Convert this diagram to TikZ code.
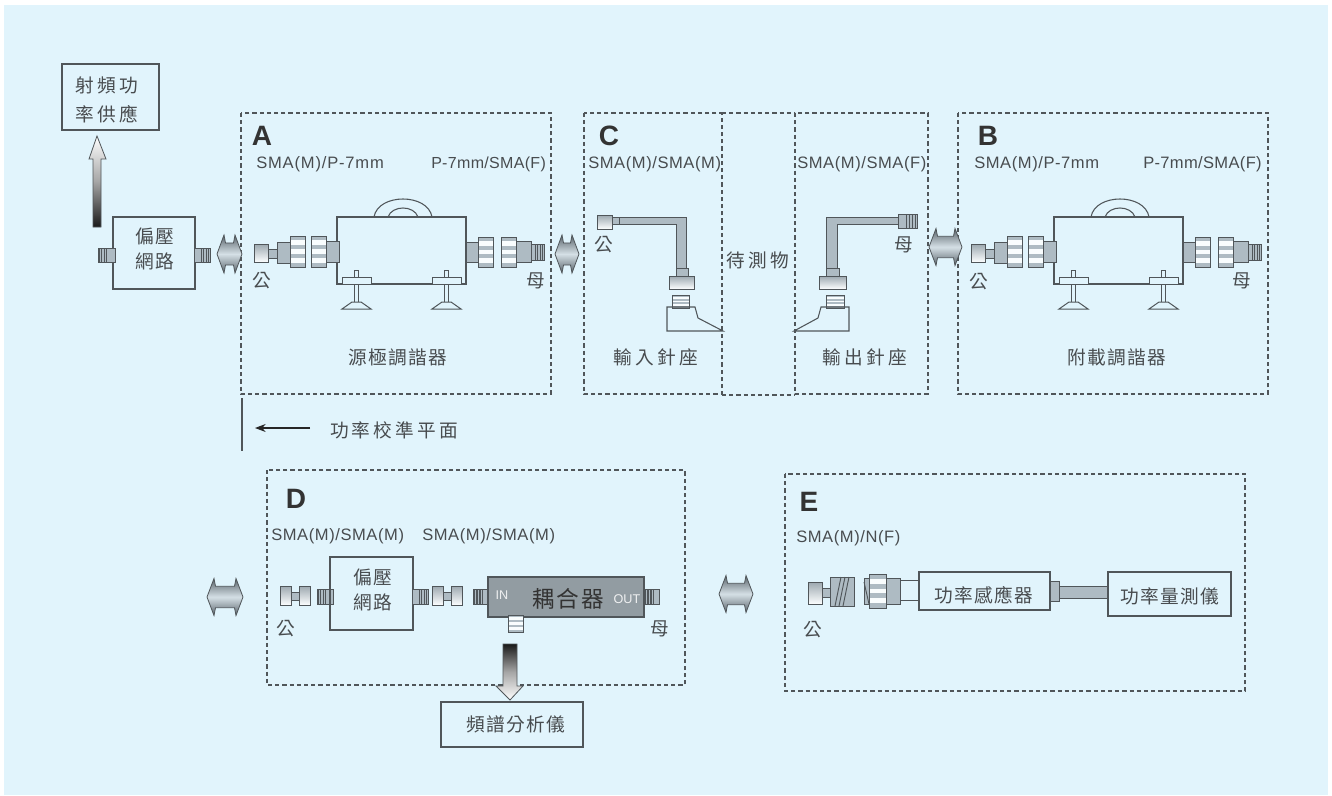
\documentclass[tikz,border=0pt]{standalone}
\usepackage{fontspec}
\setmainfont{Liberation Sans}
\newfontfamily\cjk[LetterSpace=8]{Noto Sans CJK TC}
\newfontfamily\cjkw[LetterSpace=17]{Noto Sans CJK TC}
\newfontfamily\lat[LetterSpace=5]{Liberation Sans}
\newfontfamily\latm[LetterSpace=3.5]{Liberation Sans}
\newfontfamily\lats[LetterSpace=2]{Liberation Sans}
\usetikzlibrary{arrows.meta}
\definecolor{bg}{HTML}{E1F4FC}
\definecolor{ln}{HTML}{50565A}
\definecolor{txt}{HTML}{484C4F}
\definecolor{mt}{HTML}{AEBBC3}
\definecolor{cp}{HTML}{929CA2}
\definecolor{ae}{HTML}{59636A}
\definecolor{am}{HTML}{D5E0E6}
\tikzset{
  x=0.75pt,y=-0.75pt,
  dbox/.style={draw=ln,line width=0.8pt,dash pattern=on 3.2pt off 2.2pt},
  sbox/.style={draw=ln,line width=0.8pt,inner sep=0,outer sep=0},
  part/.style={draw=ln,line width=0.75pt,fill=mt},
  cjt/.style={inner sep=0,text=txt,font=\fontsize{14}{14}\selectfont\cjk},
  cjw/.style={inner sep=0,text=txt,font=\fontsize{14}{14}\selectfont\cjkw},
  lat/.style={inner sep=0,text=txt,font=\fontsize{12.4}{13}\selectfont\lat,anchor=west},
  latm/.style={inner sep=0,text=txt,font=\fontsize{12.4}{13}\selectfont\latm,anchor=west},
  lats/.style={inner sep=0,text=txt,font=\fontsize{12.4}{13}\selectfont\lats,anchor=west},
  latss/.style={inner sep=0,text=txt,font=\fontsize{12}{13}\selectfont\lats,anchor=west},
  big/.style={inner sep=0,text=black!80,font=\fontsize{21}{21}\selectfont\bfseries},
  plug/.style={draw=ln,line width=0.75pt,top color=mt!90!black,bottom color=white!90!bg},
  block/.style={draw=ln,line width=0.6pt},
}
% box as an empty named node: name x1 y1 x2 y2
\newcommand\Bx[5]{\node[sbox,minimum width={(#4-#2)*0.75pt},minimum height={(#5-#3)*0.75pt}] (#1) at ({(#2+#4)/2},{(#3+#5)/2}) {};}
% knurled ring
\newcommand\Kn[4]{%
  \fill[white!80!bg] (#1,#2) rectangle (#3,#4);
  \foreach \i in {0,2,4,6}{\fill[mt] (#1,{#2+\i*(#4-#2)/7}) rectangle (#3,{#2+(\i+1)*(#4-#2)/7});}
  \draw[ln,line width=0.75pt] (#1,#2) rectangle (#3,#4);}
% striped stub: x1 y1 x2 y2 stripes-from stripes-to
\newcommand\Stub[6]{%
  \draw[part] (#1,#2) rectangle (#3,#4);
  \foreach \i in {0,1,2,3}{\draw[ln,line width=1.1pt] ({#5+(\i+.5)*(#6-#5)/4},#2) -- ({#5+(\i+.5)*(#6-#5)/4},#4);}}
% double arrow
\newcommand\DA[4]{%
  \path[block,top color=ae,bottom color=ae,middle color=am]
   ({#1-#3/2},#2) -- ({#1-#3/2+7},{#2-#4/2}) -- ({#1-#3/2+8.5},{#2-#4*.29}) -- ({#1+#3/2-8.5},{#2-#4*.29})
   -- ({#1+#3/2-7},{#2-#4/2}) -- ({#1+#3/2},#2) -- ({#1+#3/2-7},{#2+#4/2}) -- ({#1+#3/2-8.5},{#2+#4*.29})
   -- ({#1-#3/2+8.5},{#2+#4*.29}) -- ({#1-#3/2+7},{#2+#4/2}) -- cycle;}
% H-shaped adapter
\newcommand\HC[1]{%
  \draw[part] ({#1+10},592) rectangle ({#1+20},600);
  \draw[plug] (#1,586) rectangle ({#1+11},605);
  \draw[plug] ({#1+19},586) rectangle ({#1+30},605);}
% tuner
\newcommand\Tuner[1]{%
  \Bx{#1box}{337}{217}{466}{284}
  \draw[ln,line width=0.8pt] (374,217) .. controls (378,193) and (428,193) .. (432,217);
  \draw[ln,line width=0.8pt] (388,217) .. controls (392,205) and (414,205) .. (418,217);
  \draw[plug] (254,244) rectangle (268,262);
  \draw[part] (268,249) rectangle (278,258);
  \draw[part] (277,242) rectangle (290,263);
  \Kn{290}{236}{305}{267}
  \Kn{311}{236}{326}{267}
  \draw[part] (326,241) rectangle (339,262);
  \draw[part] (466,242) rectangle (478,262);
  \Kn{478}{237}{493}{267}
  \Kn{501}{237}{516}{267}
  \draw[part] (516,241) rectangle (531,262);
  \Stub{531}{244}{544}{260}{534}{544}
  \foreach \fx in {342,432}{%
    \draw[ln,line width=0.75pt,fill=bg] ({\fx+12},270) rectangle ({\fx+16},302);
    \draw[ln,line width=0.75pt,fill=bg] (\fx,277) rectangle ({\fx+29},284);
    \draw[ln,line width=0.75pt,fill=bg] (\fx,309) -- ({\fx+29},309) -- ({\fx+19},302) -- ({\fx+10},302) -- cycle;}
}
\begin{document}
\begin{tikzpicture}
\useasboundingbox (0,0) rectangle (1332,796);
\fill[white] (0,0) rectangle (1332,796);
\fill[bg] (4,5) rectangle (1328,795);
% dashed frames
\draw[dbox] (241,113) rectangle (551,394);
\draw[dbox] (584,113) rectangle (722,394);
\draw[dbox] (722,113) -- (795,113);
\draw[dbox] (722,395) -- (795,395);
\draw[dbox] (795,113) rectangle (928,394);
\draw[dbox] (958,113) rectangle (1268,394);
\draw[dbox] (267,470) rectangle (685,685);
\draw[dbox] (785,474) rectangle (1245,691);
% letters
\node[big] (lA) at (262,136) {A};
\node[big] (lC) at (609,136) {C};
\node[big] (lB) at (988,136) {B};
\node[big] (lD) at (296,499) {D};
\node[big] (lE) at (809,502) {E};
% top-left supply
\Bx{rf}{62}{64}{159}{130}
\node[cjw] (rft1) at (107,85) {射頻功};
\node[cjw] (rft2) at (107,114) {率供應};
\path[block,top color=white,bottom color=black!90,middle color=black!35]
  (97,136) -- (106,159) -- (101,159) -- (101,227) -- (93,227) -- (93,159) -- (89,159) -- cycle;
\Bx{bias1}{113}{217}{195}{289}
\node[cjt] (b1a) at (155,236) {偏壓};
\node[cjt] (b1b) at (155,261) {網路};
\Stub{98}{248}{115}{262}{98}{108}
\Stub{194}{248}{210}{262}{200}{210}
\DA{229.5}{254}{25}{38}
\DA{567}{254}{24}{38}
\DA{945.5}{247}{33}{37}
\DA{225}{597}{36}{37}
\DA{736}{594}{34}{37}
% tuners
\Tuner{a}
\begin{scope}[shift={(717,0)}]\Tuner{b}\end{scope}
\node[lat] (s1) at (256,164.5) {SMA(M)/P-7mm};
\node[latss] (s2) at (431,164) {P-7mm/SMA(F)};
\node[latm] (s3) at (974,164.5) {SMA(M)/P-7mm};
\node[lats] (s4) at (1143,164) {P-7mm/SMA(F)};
\node[latm] (s5) at (588,164.5) {SMA(M)/SMA(M)};
\node[latm] (s6) at (797,164.5) {SMA(M)/SMA(F)};
\node[latm] (s7) at (271,536.5) {SMA(M)/SMA(M)};
\node[latm] (s8) at (422,536.5) {SMA(M)/SMA(M)};
\node[latm] (s9) at (796,538.5) {SMA(M)/N(F)};
\node[cjt] (m1) at (262,281) {公};
\node[cjt] (f1) at (536,281) {母};
\node[cjt] (m2) at (979,282) {公};
\node[cjt] (f2) at (1242,281) {母};
\node[cjt] (m3) at (604,245) {公};
\node[cjt] (f3) at (904,245) {母};
\node[cjt] (m4) at (286,629) {公};
\node[cjt] (f4) at (660,629) {母};
\node[cjt] (m5) at (813,630) {公};
\node[cjt] (t1) at (398,357) {源極調諧器};
\node[cjt] (t2) at (1117,357) {附載調諧器};
\node[cjw] (t3) at (656,357) {輸入針座};
\node[cjw] (t4) at (865,357) {輸出針座};
\node[cjw] (t5) at (758,260) {待測物};
% left probe path
\draw[plug] (597,215) rectangle (612,229);
\draw[part] (612,217) rectangle (619,224);
\draw[part] (619,217) -- (686,217) -- (686,268) -- (676,268) -- (676,224) -- (619,224) -- cycle;
\draw[part] (676,268) rectangle (688,276);
\draw[plug] (669,276) rectangle (694,289);
\Kn{672}{295}{689}{308}
\draw[ln,line width=0.8pt] (667,307) -- (695,307) -- (698,318) -- (723,331) -- (667,331) -- cycle;
% right probe path
\draw[part] (826,217) -- (898,217) -- (898,224) -- (837,224) -- (837,268) -- (826,268) -- cycle;
\Stub{898}{214}{917}{228}{905}{917}
\draw[part] (826,268) rectangle (839,276);
\draw[plug] (819,276) rectangle (846,289);
\Kn{826}{295}{844}{308}
\draw[ln,line width=0.8pt] (849,307) -- (821,307) -- (818,318) -- (794,331) -- (849,331) -- cycle;
% calibration plane
\coordinate (calS) at (242,398);
\coordinate (calE) at (242,451);
\coordinate (arrS) at (310,428);
\coordinate (arrE) at (255,428);
\draw[ln,line width=0.8pt] (calS) -- (calE);
\draw[black!85,line width=0.8pt,-{Stealth[length=8pt,width=6pt]}] (arrS) -- (arrE);
\node[cjw] (cal) at (394,430) {功率校準平面};
% D
\HC{280}
\Stub{317}{589}{333}{604}{317}{327}
\Bx{bias2}{330}{557}{413}{630}
\node[cjt] (b2a) at (373,577) {偏壓};
\node[cjt] (b2b) at (373,602) {網路};
\Stub{412}{589}{428}{604}{418}{428}
\HC{432}
\Stub{473}{589}{489}{604}{473}{484}
\Stub{644}{589}{659}{604}{644}{655}
\node[draw=ln,line width=0.8pt,fill=cp,minimum width={156*0.75pt},minimum height={40*0.75pt},inner sep=0] (coup) at (566,597) {};
\node[inner sep=0,text=white!85!cp,font=\fontsize{9.5}{10}\selectfont] (in) at (502,595) {IN};
\node[inner sep=0,text=white!85!cp,font=\fontsize{9.5}{10}\selectfont] (out) at (627,599) {OUT};
\node[inner sep=0,text=black!80,font=\fontsize{17}{17}\selectfont\cjk] (cpt) at (568,599) {耦合器};
\Kn{508}{615}{523}{632}
\path[block,top color=black!90,bottom color=white,middle color=black!35]
  (503,644) -- (517,644) -- (517,686) -- (523,686) -- (510,700) -- (496,686) -- (503,686) -- cycle;
\Bx{spec}{441}{702}{583}{747}
\node[cjt] (spt) at (516,724) {頻譜分析儀};
% E
\draw[plug] (808,582) rectangle (822,604);
\draw[part] (822,588) rectangle (830,597);
\draw[part] (830,577) rectangle (854,606);
\foreach \q in {838,842,846}{\draw[ln,line width=0.7pt] ({\q-3},606) -- ({\q+3},577);}
\draw[ln,line width=0.75pt] (900,580) -- (919,580);
\draw[ln,line width=0.75pt] (900,600) -- (919,600);
\draw[part] (864,578) rectangle (900,604);
\draw[ln,line width=0.7pt] (864,582) -- (869,604);
\Kn{869}{574}{886}{608}
\Bx{sens}{919}{572}{1050}{610}
\node[cjt] (st) at (984,595) {功率感應器};
\draw[part] (1050,581) rectangle (1059,601);
\draw[part] (1059,586) rectangle (1108,598);
\Bx{meter}{1108}{572}{1231}{616}
\node[cjt] (mt) at (1170,596) {功率量測儀};
\end{tikzpicture}
\end{document}
